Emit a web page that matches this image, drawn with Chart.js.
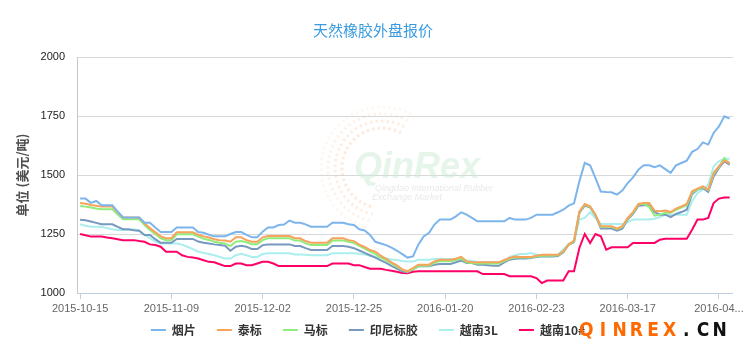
<!DOCTYPE html>
<html><head><meta charset="utf-8">
<script src="https://cdn.jsdelivr.net/npm/chart.js@4"></script>
<style>html,body{margin:0;padding:0;background:#fff}#wrap{width:747px;height:353px}</style>
</head><body><div id="wrap"><canvas id="c" width="747" height="353"></canvas></div>
<script>
const categories = [
"2015-10-15","2015-10-16","2015-10-19","2015-10-20","2015-10-21","2015-10-22","2015-10-23","2015-10-26","2015-10-27","2015-10-28",
"2015-10-29","2015-10-30","2015-11-02","2015-11-03","2015-11-04","2015-11-05","2015-11-06","2015-11-09","2015-11-10","2015-11-11",
"2015-11-12","2015-11-13","2015-11-16","2015-11-17","2015-11-18","2015-11-19","2015-11-20","2015-11-23","2015-11-24","2015-11-25",
"2015-11-26","2015-11-27","2015-11-30","2015-12-01","2015-12-02","2015-12-03","2015-12-04","2015-12-07","2015-12-08","2015-12-09",
"2015-12-10","2015-12-11","2015-12-14","2015-12-15","2015-12-16","2015-12-17","2015-12-18","2015-12-21","2015-12-22","2015-12-23",
"2015-12-24","2015-12-25","2015-12-28","2015-12-29","2015-12-30","2015-12-31","2016-01-04","2016-01-05","2016-01-06","2016-01-07",
"2016-01-08","2016-01-11","2016-01-12","2016-01-13","2016-01-14","2016-01-15","2016-01-18","2016-01-19","2016-01-20","2016-01-21",
"2016-01-22","2016-01-25","2016-01-26","2016-01-27","2016-01-28","2016-01-29","2016-02-01","2016-02-02","2016-02-03","2016-02-04",
"2016-02-05","2016-02-17","2016-02-18","2016-02-19","2016-02-22","2016-02-23","2016-02-24","2016-02-25","2016-02-26","2016-02-29",
"2016-03-01","2016-03-02","2016-03-03","2016-03-04","2016-03-07","2016-03-08","2016-03-09","2016-03-10","2016-03-11","2016-03-14",
"2016-03-15","2016-03-16","2016-03-17","2016-03-18","2016-03-21","2016-03-22","2016-03-23","2016-03-24","2016-03-25","2016-03-28",
"2016-03-29","2016-03-30","2016-03-31","2016-04-01","2016-04-05","2016-04-06","2016-04-07","2016-04-08","2016-04-11","2016-04-12",
"2016-04-13","2016-04-14"];
const tickLabels = ["2015-10-15","2015-11-09","2015-12-02","2015-12-25","2016-01-20","2016-02-23","2016-03-17","2016-04-12"];
const yTicks = [1000,1250,1500,1750,2000];

const yanpian = [1400,1400,1382,1390,1372,1372,1372,1345,1320,1320,
1320,1320,1298,1298,1278,1258,1258,1258,1278,1278,
1278,1278,1258,1255,1247,1240,1240,1240,1250,1258,
1258,1246,1236,1236,1260,1278,1278,1288,1290,1307,
1298,1298,1291,1281,1281,1281,1281,1298,1298,1298,
1291,1288,1270,1265,1246,1217,1210,1203,1192,1180,
1165,1150,1155,1205,1240,1255,1290,1311,1311,1311,
1325,1342,1332,1318,1304,1304,1304,1304,1304,1304,
1318,1311,1311,1311,1318,1332,1332,1332,1332,1342,
1353,1370,1380,1473,1551,1541,1487,1430,1428,1427,
1417,1434,1466,1490,1523,1541,1541,1533,1541,1525,
1509,1541,1551,1561,1598,1610,1638,1629,1678,1706,
1749,1739];
const taibiao = [1381,1378,1373,1370,1366,1366,1366,1343,1320,1320,
1320,1320,1295,1275,1258,1240,1232,1232,1257,1257,
1257,1257,1247,1240,1235,1228,1224,1222,1217,1236,
1236,1224,1217,1217,1236,1241,1241,1241,1241,1241,
1232,1232,1220,1213,1213,1213,1213,1232,1232,1232,
1224,1220,1205,1195,1182,1175,1158,1145,1130,1117,
1100,1092,1106,1120,1120,1120,1134,1141,1141,1141,
1145,1153,1134,1130,1130,1130,1130,1130,1130,1140,
1148,1155,1153,1153,1153,1158,1162,1162,1162,1162,
1176,1205,1222,1346,1377,1367,1332,1283,1283,1283,
1273,1283,1318,1343,1377,1381,1381,1349,1346,1349,
1343,1357,1367,1377,1431,1442,1452,1438,1509,1537,
1561,1551];
const mabiao = [1369,1366,1362,1358,1355,1355,1355,1333,1312,1312,
1312,1312,1288,1267,1250,1232,1224,1224,1249,1249,
1249,1249,1239,1230,1225,1217,1213,1210,1199,1217,
1220,1215,1207,1207,1224,1232,1232,1232,1232,1232,
1222,1222,1210,1203,1203,1203,1203,1222,1222,1222,
1217,1212,1200,1188,1175,1165,1150,1138,1125,1112,
1098,1090,1100,1115,1115,1115,1128,1135,1135,1135,
1140,1145,1130,1126,1125,1125,1125,1125,1125,1135,
1145,1150,1150,1150,1150,1155,1158,1158,1158,1160,
1174,1208,1218,1342,1374,1365,1330,1280,1280,1280,
1270,1280,1315,1340,1375,1378,1365,1328,1332,1340,
1340,1352,1362,1372,1426,1438,1449,1436,1505,1535,
1572,1548];
const yinni = [1310,1308,1303,1297,1291,1291,1291,1280,1270,1270,
1266,1264,1246,1246,1228,1213,1213,1213,1229,1229,
1229,1229,1218,1213,1210,1206,1203,1200,1179,1196,
1200,1196,1186,1186,1203,1206,1206,1206,1206,1206,
1199,1199,1190,1182,1182,1182,1182,1199,1199,1199,
1196,1190,1180,1170,1160,1150,1138,1128,1115,1103,
1092,1088,1100,1113,1113,1113,1120,1123,1123,1123,
1130,1137,1127,1127,1120,1120,1118,1115,1115,1130,
1141,1145,1146,1146,1148,1152,1155,1155,1155,1157,
1172,1205,1216,1339,1370,1363,1329,1273,1273,1273,
1264,1273,1311,1335,1370,1372,1372,1343,1332,1332,
1322,1335,1343,1353,1420,1438,1445,1428,1494,1530,
1558,1544];
const yuenan3L = [1291,1285,1281,1281,1281,1275,1270,1267,1267,1267,
1270,1264,1246,1232,1218,1210,1210,1210,1210,1205,
1196,1186,1175,1170,1165,1160,1153,1146,1146,1160,
1166,1160,1153,1153,1165,1168,1168,1168,1168,1168,
1163,1163,1162,1160,1160,1160,1160,1168,1168,1168,
1168,1168,1166,1163,1158,1153,1150,1147,1142,1140,
1136,1133,1133,1141,1141,1141,1144,1144,1144,1144,
1140,1138,1138,1136,1131,1131,1131,1131,1131,1134,
1153,1160,1165,1165,1169,1162,1160,1160,1160,1162,
1185,1205,1215,1311,1318,1342,1318,1292,1292,1292,
1292,1292,1300,1311,1311,1311,1311,1315,1322,1332,
1332,1332,1332,1332,1389,1424,1438,1459,1537,1558,
1569,1569];
const yuenan10 = [1250,1245,1239,1239,1239,1235,1232,1228,1224,1224,
1224,1220,1217,1206,1203,1196,1175,1175,1175,1160,
1153,1150,1146,1139,1132,1130,1122,1114,1114,1125,
1125,1118,1118,1125,1132,1132,1125,1114,1114,1114,
1114,1114,1114,1114,1114,1114,1114,1125,1125,1125,
1125,1118,1118,1110,1103,1103,1103,1098,1094,1090,
1085,1084,1090,1092,1092,1092,1092,1092,1092,1092,
1092,1092,1092,1092,1092,1080,1080,1080,1080,1080,
1071,1071,1071,1071,1071,1063,1042,1053,1053,1053,
1053,1092,1092,1191,1250,1212,1250,1240,1184,1194,
1194,1194,1194,1212,1212,1212,1212,1212,1226,1230,
1230,1230,1230,1230,1268,1311,1311,1318,1381,1400,
1405,1405];

const seriesNames = ["烟片","泰标","马标","印尼标胶","越南3L","越南10#"];
const seriesValues = [yanpian, taibiao, mabiao, yinni, yuenan3L, yuenan10];
const seriesColors = ["#7cb5ec","#f7a35c","#90ed7d","#7798bf","#aaeeee","#ff0066"];

const CJK = '"Noto Sans CJK SC", "Noto Sans", sans-serif';
const LAT = '"Liberation Sans", Arial, sans-serif';

const decorPlugin = {
  id: 'decor',
  beforeDatasetsDraw(chart) {
    const ctx = chart.ctx;
    ctx.save();
    const cx = 382, cy = 168;
    [40, 47, 54, 61].forEach((r, k) => {
      ctx.beginPath();
      ctx.setLineDash([2.5, 3]);
      ctx.lineWidth = 3;
      ctx.strokeStyle = 'rgba(250,200,165,' + (0.38 - k * 0.08) + ')';
      ctx.arc(cx, cy, r, -Math.PI / 2 + 0.5, Math.PI / 2 + 0.2, true);
      ctx.stroke();
    });
    ctx.setLineDash([]);
    ctx.font = 'italic bold 36px ' + LAT;
    ctx.fillStyle = 'rgba(205,236,214,0.5)';
    ctx.textBaseline = 'alphabetic';
    ctx.fillText('QinRex', 354, 178);
    ctx.font = 'italic 9px ' + LAT;
    ctx.fillStyle = 'rgba(190,190,190,0.35)';
    ctx.fillText('Qingdao International Rubber', 375, 191);
    ctx.fillText('Exchange Market', 372, 200);
    ctx.restore();
  },
  afterDraw(chart) {
    const ctx = chart.ctx;
    ctx.save();
    ctx.font = '15px ' + CJK;
    ctx.fillStyle = '#3a9be0';
    ctx.textAlign = 'center';
    ctx.textBaseline = 'middle';
    ctx.fillText('天然橡胶外盘报价', 373, 30);
    ctx.font = 'bold 12px ' + CJK;
    ctx.textAlign = 'left';
    const items = chart.data.datasets.map(d => ({label: d.label, color: d.borderColor, w: ctx.measureText(d.label).width}));
    const sym = 15, gap = 6, spacing = 21;
    const total = items.reduce((a, it) => a + sym + gap + it.w, 0) + spacing * (items.length - 1);
    let x = 368 - total / 2;
    const y = 330;
    items.forEach(it => {
      ctx.fillStyle = it.color;
      ctx.fillRect(x, y - 1, sym, 2);
      ctx.fillStyle = '#333';
      ctx.fillText(it.label, x + sym + gap, y);
      x += sym + gap + it.w + spacing;
    });
    const mark = 'QINREX.CN';
    const x0 = 578, x1 = 728, step = (x1 - x0) / mark.length;
    ctx.font = 'bold 19px "DejaVu Sans Condensed", "DejaVu Sans", sans-serif';
    ctx.textAlign = 'center';
    for (let i = 0; i < mark.length; i++) {
      ctx.fillStyle = i < 6 ? '#ff6a00' : '#111';
      ctx.fillText(mark[i], x0 + step * (i + 0.5), 331);
    }
    ctx.restore();
  }
};

new Chart(document.getElementById('c'), {
  type: 'line',
  data: {
    datasets: seriesNames.map((n, k) => ({
      label: n,
      data: seriesValues[k].map((v, i) => ({x: i, y: v})),
      borderColor: seriesColors[k],
      backgroundColor: seriesColors[k],
      borderWidth: 2,
      pointRadius: 0,
      tension: 0,
      fill: false
    }))
  },
  options: {
    responsive: false,
    animation: false,
    layout: {padding: {top: 57, right: 13, bottom: 35, left: 0}},
    plugins: {legend: {display: false}, title: {display: false}, tooltip: {enabled: false}},
    scales: {
      x: {
        type: 'linear',
        min: -0.58, max: 121.6,
        afterFit(s) { s.height = 25; },
        afterBuildTicks(s) { s.ticks = tickLabels.map(l => ({value: categories.indexOf(l)})); },
        grid: {drawOnChartArea: false, drawTicks: true, tickLength: 6, color: '#c0d0e0'},
        border: {display: true, color: '#c0d0e0'},
        ticks: {
          autoSkip: false, maxRotation: 0, padding: 3, color: '#666',
          font: {family: LAT, size: 11},
          callback(v, idx, arr) { const l = categories[v]; return idx === arr.length - 1 ? l.slice(0, 7) + '...' : l; }
        }
      },
      y: {
        min: 1000, max: 2000,
        afterFit(s) { s.width = 77; },
        afterBuildTicks(s) { s.ticks = yTicks.map(v => ({value: v})); },
        grid: {color: '#d8d8d8', drawTicks: false},
        border: {display: true, color: '#c8c8c8'},
        ticks: {padding: 12, color: '#222', font: {family: LAT, size: 11}, callback: v => String(v)},
        title: {display: true, text: '单位 (美元/吨)', color: '#4d4d4d', font: {family: CJK, size: 13, weight: 'bold'}, padding: {top: 14, bottom: 0}}
      }
    }
  },
  plugins: [decorPlugin]
});
</script></body></html>
